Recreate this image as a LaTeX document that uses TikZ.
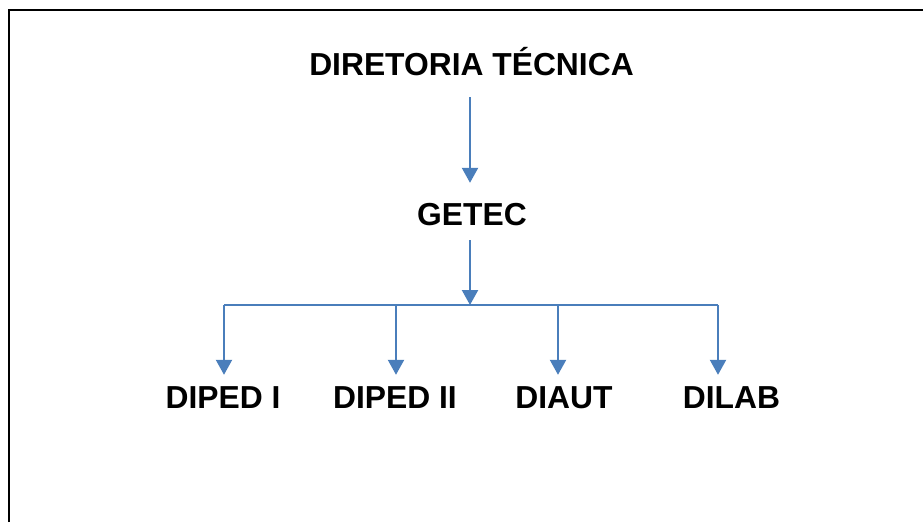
\documentclass[tikz,border=0pt]{standalone}
\usepackage{fontspec}
\setmainfont{Liberation Sans}
\usepackage{tikz}
\usetikzlibrary{arrows.meta}
\usepackage{xcolor}
\definecolor{azul}{RGB}{74,126,187}

\begin{document}
\begin{tikzpicture}[
x=1pt, y=-1pt,
rotulo/.style={anchor=base,
inner sep=0pt,
font=\fontsize{31.8}{36}\selectfont\bfseries},
linha/.style={draw=azul, line width=2.2pt},
seta/.style={linha, -{Triangle[width=16pt,length=15pt]}}
]

\useasboundingbox (0,0) rectangle (923,522);
\draw[line width=2.2pt] (9,522) -- (9,10) -- (923,10);

\node[rotulo, text depth=22pt] (dir) at (471.5,75) {DIRETORIA TÉCNICA};
\node[rotulo, text height=42pt, text depth=15pt] (getec) at (472,225) {GETEC};
\node[rotulo, text height=33pt] (diped1) at (223,408) {DIPED I};
\node[rotulo, text height=33pt] (diped2) at (395,408) {DIPED II};
\node[rotulo, text height=33pt] (diaut) at (564,408) {DIAUT};
\node[rotulo, text height=33pt] (dilab) at (731.5,408) {DILAB};

\coordinate (b0) at (470,305);
\coordinate (b1) at (224,305);
\coordinate (b2) at (396,305);
\coordinate (b3) at (558,305);
\coordinate (b4) at (718,305);

\draw[seta] (dir.south -| b0) -- (getec.north -| b0);
\draw[seta] (getec.south -| b0) -- (b0);
\draw[linha] (b1) -- (b4);
\draw[seta] (b1) -- (b1 |- diped1.north);
\draw[seta] (b2) -- (b2 |- diped2.north);
\draw[seta] (b3) -- (b3 |- diaut.north);
\draw[seta] (b4) -- (b4 |- dilab.north);

\end{tikzpicture}
\end{document}
